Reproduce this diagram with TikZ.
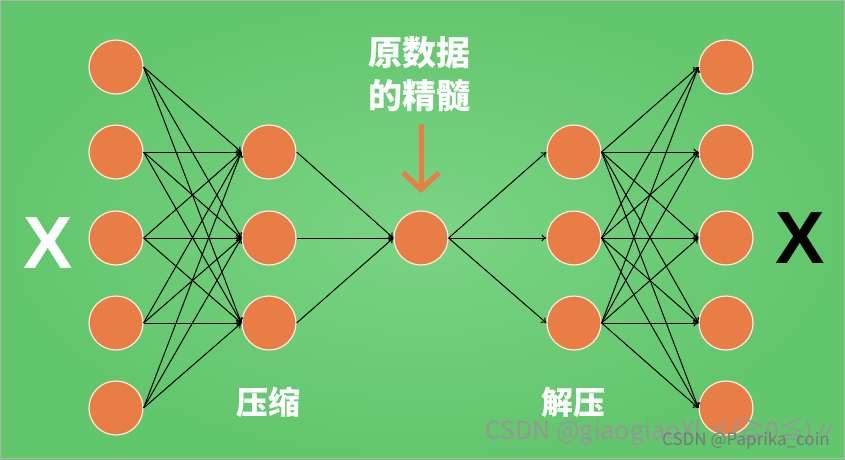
\documentclass[tikz,border=0pt]{standalone}
\usepackage{fontspec}
\setmainfont{Liberation Sans}
\newfontfamily\cjk{Noto Sans CJK SC}
\usetikzlibrary{
  positioning,
  arrows.meta
}
\definecolor{bggreen}{RGB}{122,212,132}
\definecolor{bgedge}{RGB}{98,198,108}
\definecolor{cellorange}{RGB}{232,125,70}
\definecolor{markgray}{RGB}{150,150,150}

\begin{document}
\begin{tikzpicture}[
  x=1pt, y=-1pt,
  cell/.style={
    circle,
    fill=cellorange,
    draw=white!85!cellorange,
    line width=1.2pt,
    minimum size=54pt,
    inner sep=0pt
  },
  link/.style={-{To[length=5pt,width=7pt]}, line width=1pt, black},
  tag/.style={font=\cjk\fontsize{32}{32}\selectfont\bfseries, text=white, inner sep=1pt},
  bigx/.style={font=\fontsize{74}{74}\selectfont\bfseries},
  mark/.style={font=\cjk\fontsize{#1}{#1}\selectfont, text=markgray, inner sep=0pt}
]

% Background
\shade[inner color=bggreen, outer color=bgedge] (0,0) rectangle (845,459);
\draw[gray!60, line width=1pt] (0.5,0.5) rectangle (844.5,458.5);
\useasboundingbox (0,0) rectangle (845,459);

% ==================== INPUT LAYER ====================
\node[cell] (in1) at (116,67) {};
\node[cell] (in2) at (116,152) {};
\node[cell] (in3) at (116,238) {};
\node[cell] (in4) at (116,323) {};
\node[cell] (in5) at (116,408) {};

% ==================== ENCODER ====================
\node[cell] (enc1) at (269,152) {};
\node[cell] (enc2) at (269,238) {};
\node[cell] (enc3) at (269,323) {};

% ==================== CODE ====================
\node[cell] (code) at (421,238) {};

% ==================== DECODER ====================
\node[cell] (dec1) at (574,152) {};
\node[cell] (dec2) at (574,238) {};
\node[cell] (dec3) at (574,323) {};

% ==================== OUTPUT LAYER ====================
\node[cell] (out1) at (726,67) {};
\node[cell] (out2) at (726,152) {};
\node[cell] (out3) at (726,238) {};
\node[cell] (out4) at (726,323) {};
\node[cell] (out5) at (726,408) {};

% Connections
\foreach \i in {1,...,5}
  \foreach \j in {1,2,3}
    \draw[link] (in\i.east) -- (enc\j.west);
\foreach \j in {1,2,3}
  \draw[link] (enc\j.east) -- (code.west);
\foreach \j in {1,2,3}
  \draw[link] (code.east) -- (dec\j.west);
\foreach \j in {1,2,3}
  \foreach \i in {1,...,5}
    \draw[link] (dec\j.east) -- (out\i.west);

% Labels
\node[bigx, text=white] (xin) at (48,243) {X};
\node[bigx, text=black] (xout) at (800,238) {X};

\node[tag, align=center, font=\cjk\fontsize{34}{43}\selectfont\bfseries] (essence) at (419,74) {原数据\\的精髓};
\coordinate (esstop) at (421,124);
\coordinate (essbot) at (421,193);
\draw[-{Straight Barb[length=17pt,width=36pt,line width=5pt]}, line width=5pt, cellorange] (esstop) -- (essbot);

\node[tag] (squeeze) at (268,402) {压缩};
\node[tag] (unsqueeze) at (573,402) {解压};

% Watermark
\node[mark=25, anchor=west] (wm1) at (485,432) {CSDN @giaogiaoXl ヾ(≧0≦)〃};
\node[mark=17, anchor=east, text=markgray!80!black] (wm2) at (830,441) {CSDN @Paprika\_coin};

\end{tikzpicture}
\end{document}
